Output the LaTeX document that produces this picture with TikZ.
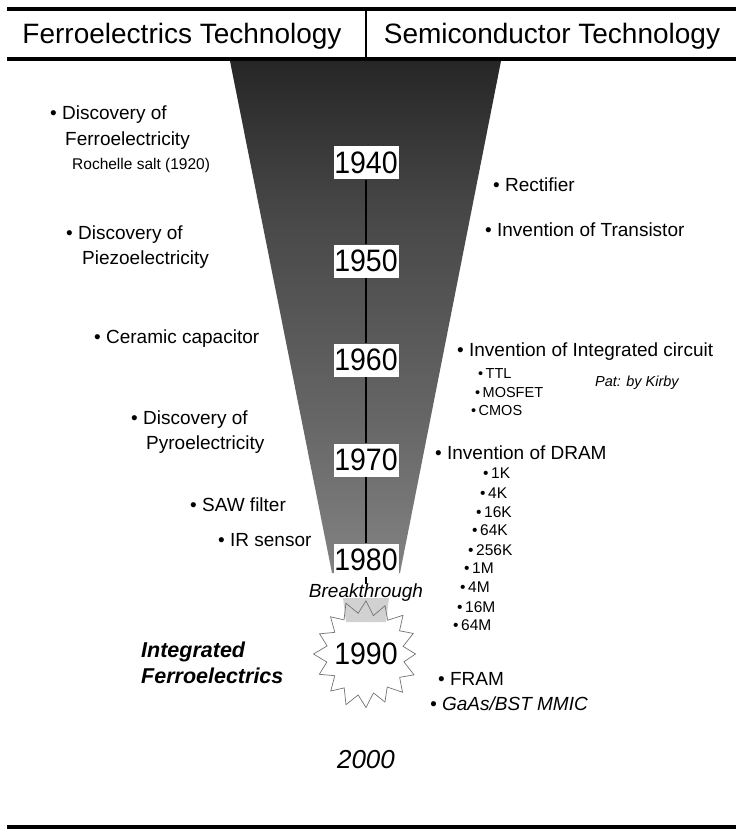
\documentclass[tikz,border=0pt]{standalone}
\usepackage{fontspec}
\setmainfont{Liberation Sans}
\newfontfamily\yearfont[FakeStretch=0.92]{Liberation Sans}
\pgfdeclareverticalshading{funnelshade}{100bp}{color(0bp)=(black!28); color(20bp)=(black!45); color(40bp)=(black!60); color(60bp)=(black!72); color(75bp)=(black!85); color(85bp)=(black); color(100bp)=(black)}
\begin{document}
\begin{tikzpicture}[x=1pt,y=-1pt,
  txt/.style={inner sep=0pt, anchor=west, font=\fontsize{19}{22}\selectfont, text height=13.7pt, text depth=0pt},
  sml/.style={inner sep=0pt, anchor=west, font=\fontsize{15.5}{18}\selectfont, text height=11.2pt, text depth=0pt},
  tny/.style={inner sep=0pt, anchor=west, font=\fontsize{14.5}{17}\selectfont, text height=10.4pt, text depth=0pt},
  hdr/.style={inner sep=0pt, font=\fontsize{28}{32}\selectfont, text height=20pt, text depth=0pt},
  yearbox/.style={fill=white, inner sep=0pt, minimum width=65pt, minimum height=33pt, font=\yearfont\fontsize{31}{34}\selectfont},
  yeartxt/.style={inner sep=0pt, font=\yearfont\fontsize{31}{34}\selectfont},
  bigital/.style={inner sep=0pt, anchor=west, font=\fontsize{21.5}{24}\selectfont\bfseries\itshape, text height=15.5pt, text depth=0pt},
  rule/.style={line width=4pt},
  timeline/.style={line width=2pt},
  burst/.style={draw=black!55, line width=0.7pt}
]
\useasboundingbox (0,0) rectangle (736,829);

% header
\draw[rule] (7,9.5) -- (736,9.5);
\draw[rule] (7,59.5) -- (736,59.5);
\draw[line width=1.5pt] (366,9.5) -- (366,59.5);
\node[hdr] (hl) at (182,34) {Ferroelectrics Technology};
\node[hdr] (hr) at (552,34) {Semiconductor Technology};

% funnel
\shade[shading=funnelshade] (230,61) -- (501,61) -- (400,573) -- (332,573) -- cycle;
\fill[black!18] (343,598) -- (389,598) -- (386,622) -- (346,622) -- cycle;

% starburst
\draw[burst] plot[variable=\k, samples at={0,...,31}]
  ({366+(45+6*cos(\k*180)+1.5*sin(\k*57))*cos(\k*11.25+90)},
   {654+(47+6.5*cos(\k*180)+1.5*sin(\k*57))*sin(\k*11.25+90)}) -- cycle;

% year boxes
\node[yearbox] (y1940) at (366,163) {1940};
\node[yearbox] (y1950) at (366,261) {1950};
\node[yearbox] (y1960) at (366,360) {1960};
\node[yearbox] (y1970) at (366,460) {1970};
\node[yearbox] (y1980) at (366,560) {1980};
\node[txt, anchor=center, font=\fontsize{19}{22}\selectfont\itshape] (brk) at (366,591) {Breakthrough};
\node[yeartxt] (y1990) at (366,654) {1990};
\node[inner sep=0pt, font=\fontsize{26}{30}\selectfont\itshape] (y2000) at (366,760) {2000};

\draw[timeline] (y1940.south) -- (y1950.north);
\draw[timeline] (y1950.south) -- (y1960.north);
\draw[timeline] (y1960.south) -- (y1970.north);
\draw[timeline] (y1970.south) -- (y1980.north);
\draw[timeline] (y1980.south) -- (brk.north);

% left column
\node[txt] (l1a) at (50,113) {\textbullet\ Discovery of};
\node[txt] (l1b) at (65,139) {Ferroelectricity};
\node[sml] (l1c) at (72,164) {Rochelle salt (1920)};
\node[txt] (l2a) at (66,233) {\textbullet\ Discovery of};
\node[txt] (l2b) at (82,258) {Piezoelectricity};
\node[txt] (l3) at (94,337) {\textbullet\ Ceramic capacitor};
\node[txt] (l4a) at (131,418) {\textbullet\ Discovery of};
\node[txt] (l4b) at (146,443) {Pyroelectricity};
\node[txt] (l5) at (190,505) {\textbullet\ SAW filter};
\node[txt] (l6) at (218,540) {\textbullet\ IR sensor};
\node[bigital] (if1) at (141,650) {Integrated};
\node[bigital] (if2) at (141,676) {Ferroelectrics};

% right column
\node[txt] (r1) at (493,185) {\textbullet\ Rectifier};
\node[txt] (r2) at (485,230) {\textbullet\ Invention of Transistor};
\node[txt] (r3) at (457,350) {\textbullet\ Invention of Integrated circuit};
\node[tny] (r3a) at (478,373) {\textbullet\,TTL};
\node[tny] (r3b) at (475,392) {\textbullet\,MOSFET};
\node[tny] (r3c) at (471,410) {\textbullet\,CMOS};
\node[tny, font=\fontsize{14.5}{17}\selectfont\itshape] (kirby) at (595,381) {Pat: by Kirby};
\node[txt] (r4) at (435,453) {\textbullet\ Invention of DRAM};
\node[sml] (m1) at (483,473) {\textbullet\,1K};
\node[sml] (m2) at (480,493) {\textbullet\,4K};
\node[sml] (m3) at (476,512) {\textbullet\,16K};
\node[sml] (m4) at (472,530) {\textbullet\,64K};
\node[sml] (m5) at (468,550) {\textbullet\,256K};
\node[sml] (m6) at (464,568) {\textbullet\,1M};
\node[sml] (m7) at (460,587) {\textbullet\,4M};
\node[sml] (m8) at (457,607) {\textbullet\,16M};
\node[sml] (m9) at (453,625) {\textbullet\,64M};
\node[txt] (r5) at (438,679) {\textbullet\ FRAM};
\node[txt, font=\fontsize{19}{22}\selectfont\itshape] (r6) at (430,704) {\textbullet\ GaAs/BST MMIC};

% bottom rule
\draw[rule] (7,827) -- (736,827);
\end{tikzpicture}
\end{document}
